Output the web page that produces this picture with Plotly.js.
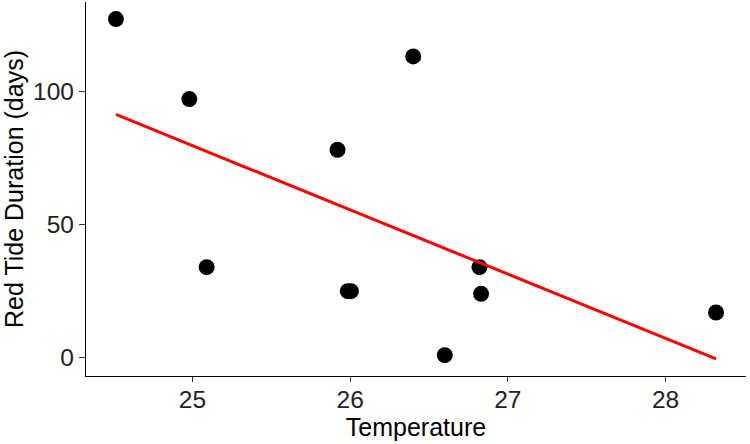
<!DOCTYPE html>
<html>
<head>
<meta charset="utf-8">
<script src="https://cdn.plot.ly/plotly-3.0.1.min.js"></script>
<style>
  body { margin: 0; background: #fff; }
  #plot { width: 750px; height: 444px; }
</style>
</head>
<body>
<div id="plot"></div>
<script>
// temperature vs red tide duration
var temperature = [24.515, 24.98, 25.09, 25.92, 26.40, 25.985, 26.005, 26.60, 26.82, 26.83, 28.32];
var duration = [127, 97, 34, 78, 113, 25, 25, 1, 34, 24, 17];

// least squares fit, like geom_smooth(method = "lm")
var n = temperature.length;
var mx = temperature.reduce(function(a, b) { return a + b; }, 0) / n;
var my = duration.reduce(function(a, b) { return a + b; }, 0) / n;
var sxy = 0, sxx = 0;
for (var i = 0; i < n; i++) {
    sxy += (temperature[i] - mx) * (duration[i] - my);
    sxx += (temperature[i] - mx) * (temperature[i] - mx);
}
var slope = sxy / sxx;
var icept = my - slope * mx;
var xmin = Math.min.apply(null, temperature);
var xmax = Math.max.apply(null, temperature);
var fitX = [xmin, xmax];
var fitY = fitX.map(function(x) { return icept + slope * x; });

var points = {
    x: temperature,
    y: duration,
    type: "scatter",
    mode: "markers",
    marker: { color: "black", size: 16 },
    hoverinfo: "x+y"
};
var fit = {
    x: fitX,
    y: fitY,
    type: "scatter",
    mode: "lines",
    line: { color: "#ff0000", width: 3 },
    hoverinfo: "skip"
};

var font = "Liberation Sans, Arial, sans-serif";
var layout = {
    width: 750,
    height: 444,
    margin: { l: 86, r: 4, t: 2, b: 68 },
    paper_bgcolor: "white",
    plot_bgcolor: "white",
    showlegend: false,
    font: { family: font, color: "#1a1a1a" },
    xaxis: {
        title: { text: "Temperature", font: { size: 25, color: "black" }, standoff: 2 },
        range: [24.325, 28.51],
        tickvals: [25, 26, 27, 28],
        tickfont: { size: 24.5, color: "#222" },
        ticklabelstandoff: -4,
        showgrid: false,
        zeroline: false,
        showline: true,
        linecolor: "black",
        linewidth: 1.3,
        ticks: "outside",
        ticklen: 5,
        tickwidth: 1.3,
        tickcolor: "#333",
        automargin: false
    },
    yaxis: {
        title: { text: "Red Tide Duration (days)", font: { size: 25, color: "black" }, standoff: 6 },
        range: [-6.8, 133.4],
        tickvals: [0, 50, 100],
        tickfont: { size: 24.5, color: "#222" },
        showgrid: false,
        zeroline: false,
        showline: true,
        linecolor: "black",
        linewidth: 1.3,
        ticks: "outside",
        ticklen: 6,
        tickwidth: 1.3,
        tickcolor: "#333",
        automargin: false
    }
};

Plotly.newPlot("plot", [points, fit], layout, { displayModeBar: false });
</script>
</body>
</html>
